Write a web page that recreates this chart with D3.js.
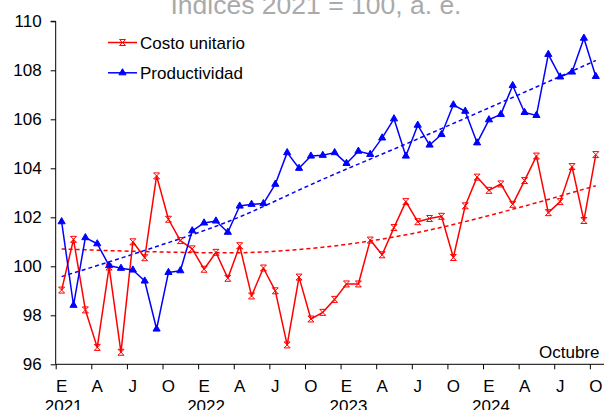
<!DOCTYPE html>
<html>
<head>
<meta charset="utf-8">
<script src="https://cdn.jsdelivr.net/npm/d3@7"></script>
<style>
  body { margin: 0; background: #fff; }
  svg { display: block; font-family: "Liberation Sans", Arial, sans-serif; }
</style>
</head>
<body>
<script>
"use strict";

// monthly data, Jan 2021 .. Oct 2024
const costoUnitario = [99.03, 101.1, 98.22, 96.69, 99.97, 96.49, 101.0, 100.35, 103.69, 101.92, 101.05, 100.71,
  99.88, 100.57, 99.51, 100.84, 98.79, 99.93, 99.0, 96.79, 99.56, 97.85, 98.12, 98.65,
  99.28, 99.28, 101.07, 100.47, 101.58, 102.64, 101.82, 101.95, 102.04, 100.36, 102.47, 103.64,
  103.1, 103.36, 102.53, 103.5, 104.5, 102.19, 102.64, 104.07, 101.87, 104.56];
const productividad = [101.82, 98.41, 101.17, 100.92, 100.03, 99.92, 99.85, 99.4, 97.44, 99.75, 99.82, 101.45,
  101.77, 101.85, 101.39, 102.46, 102.53, 102.56, 103.35, 104.64, 104.0, 104.5, 104.53, 104.64,
  104.2, 104.7, 104.57, 105.24, 106.02, 104.5, 105.76, 104.95, 105.38, 106.59, 106.33, 105.04,
  105.98, 106.2, 107.38, 106.28, 106.16, 108.65, 107.73, 107.93, 109.31, 107.75];
// dashed trend lines, read at a few months
const trendMonths = [0, 7, 14, 22, 30, 37, 45];
const trendCosto = [100.71, 100.60, 100.55, 100.78, 101.38, 102.2, 103.29];
const trendProductividad = [99.58, 100.65, 101.82, 103.55, 105.2, 106.68, 108.4];
const monthLabels = ["E", "A", "J", "O"];
const yearLabels = ["2021", "2022", "2023", "2024"];
const yTicks = [96, 98, 100, 102, 104, 106, 108, 110];
const seriesNames = ["Costo unitario", "Productividad"];

const width = 604, height = 410;
const monthW = 11.87;
const x0 = 55.7;
const n = costoUnitario.length;

const x = d3.scaleLinear().domain([0, n]).range([x0, x0 + n * monthW]);
const y = d3.scaleLinear().domain([96, 110]).range([364.3, 21.3]);

let svg = d3.select("body").append("svg")
	.attr("width", width)
	.attr("height", height);

// title, cut by the top edge
svg.append("text")
	.attr("x", 316)
	.attr("y", 14)
	.attr("text-anchor", "middle")
	.attr("font-size", 26.5)
	.attr("fill", "#aaaaaa")
	.text("Índices 2021 = 100, a. e.");

// y axis
let yAxis = d3.axisLeft(y).tickValues(yTicks).tickSize(5).tickPadding(9).tickFormat(d3.format("d"));
let gy = svg.append("g").attr("transform", "translate(" + x0 + ",0)").call(yAxis);
gy.select(".domain").attr("d", "M0," + y(96) + "V" + y(110) + "H-5");
gy.selectAll("text").attr("font-size", 17).attr("font-family", "Liberation Sans, Arial").attr("fill", "#000");
gy.selectAll("line, path").attr("stroke", "#000").attr("stroke-width", 1);

// x axis
let quarterTicks = d3.range(0, n, 3);
let xAxis = d3.axisBottom(x).tickValues(quarterTicks).tickSize(5).tickFormat("");
let gx = svg.append("g").attr("transform", "translate(0," + y(96) + ")").call(xAxis);
gx.select(".domain").attr("d", "M" + x0 + ",0H" + width);
gx.selectAll("line, path").attr("stroke", "#000").attr("stroke-width", 1);

svg.append("g").selectAll("text.m")
	.data(quarterTicks)
	.join("text")
	.attr("x", function(d) { return x(d + 0.5); })
	.attr("y", 391.5)
	.attr("text-anchor", "middle")
	.attr("font-size", 17)
	.text(function(d) { return monthLabels[(d % 12) / 3]; });

svg.append("g").selectAll("text.yr")
	.data(yearLabels)
	.join("text")
	.attr("x", function(d, i) { return x(i * 12 + 0.5) + 2; })
	.attr("y", 412)
	.attr("text-anchor", "middle")
	.attr("font-size", 17)
	.text(function(d) { return d; });

svg.append("text")
	.attr("x", 599.5)
	.attr("y", 358)
	.attr("text-anchor", "end")
	.attr("font-size", 17)
	.text("Octubre");

let line = d3.line()
	.x(function(d, i) { return x(i + 0.5); })
	.y(function(d) { return y(d); });

let trendLine = d3.line()
	.x(function(d, i) { return x(trendMonths[i] + 0.5); })
	.y(function(d) { return y(d); })
	.curve(d3.curveMonotoneX);

let colors = ["#ff0000", "#0000ff"];
let allSeries = [costoUnitario, productividad];
let trends = [trendCosto, trendProductividad];

// trend lines
trends.forEach(function(t, k) {
	svg.append("path")
		.attr("d", trendLine(t))
		.attr("fill", "none")
		.attr("stroke", colors[k])
		.attr("stroke-width", 1.5)
		.attr("stroke-dasharray", "4,3");
});

const xMark = "M-3,-3L3,3M3,-3L-3,3M-3,-3H3M-3,3H3";
const triMark = d3.symbol().type(d3.symbolTriangle).size(22)();
let markers = [xMark, triMark];

allSeries.forEach(function(s, k) {
	svg.append("path")
		.attr("d", line(s))
		.attr("fill", "none")
		.attr("stroke", colors[k])
		.attr("stroke-width", 1.5)
		.attr("stroke-linejoin", "round");
	svg.append("g").selectAll("path")
		.data(s)
		.join("path")
		.attr("transform", function(d, i) { return "translate(" + x(i + 0.5) + "," + y(d) + ")"; })
		.attr("d", markers[k])
		.attr("fill", k == 1 ? colors[k] : "none")
		.attr("stroke", colors[k])
		.attr("stroke-width", 1);
});

// legend
let legend = svg.append("g");
seriesNames.forEach(function(name, k) {
	let ly = 42.5 + k * 30.3;
	legend.append("line")
		.attr("x1", 108).attr("x2", 137)
		.attr("y1", ly).attr("y2", ly)
		.attr("stroke", colors[k]).attr("stroke-width", 1.5);
	legend.append("path")
		.attr("transform", "translate(122.5," + ly + ")")
		.attr("d", markers[k])
		.attr("fill", k == 1 ? colors[k] : "none")
		.attr("stroke", colors[k]).attr("stroke-width", 1);
	legend.append("text")
		.attr("x", 140).attr("y", ly + 6)
		.attr("font-size", 17)
		.text(name);
});
</script>
</body>
</html>
